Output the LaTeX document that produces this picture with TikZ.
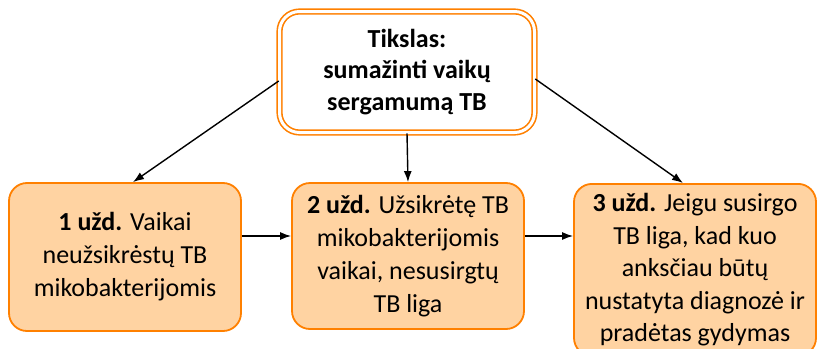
\documentclass[tikz,border=0pt]{standalone}
\usepackage{fontspec}
\setmainfont{Carlito}
\usetikzlibrary{arrows.meta}
\definecolor{uzdfill}{RGB}{255,211,162}
\definecolor{uzdline}{RGB}{255,128,0}

\begin{document}
\begin{tikzpicture}[x=1pt,y=-1pt,>={Latex[length=11pt,width=8pt]},
  uzd/.style={draw=uzdline,line width=1.8pt,fill=uzdfill,rounded corners=18pt,
    align=center,inner sep=2pt,font=\fontsize{26}{33}\selectfont},
  goalbox/.style={draw=uzdline,double=white,double distance=3pt,line width=1.6pt,
    rounded corners=20pt,align=center,font=\bfseries\fontsize{26}{31.5}\selectfont}]
\useasboundingbox (0,0) rectangle (818,348);
\node[goalbox,minimum width=255pt,minimum height=121pt] (goal) at (407,72)
 {Tikslas:\\ sumažinti vaikų\\ sergamumą TB};
\node[uzd,minimum width=232pt,minimum height=148pt] (t1) at (125,257)
 {\textbf{1 užd.} Vaikai\\ neužsikrėstų TB\\ mikobakterijomis};
\node[uzd,minimum width=232pt,minimum height=146pt] (t2) at (408,256)
 {\textbf{2 užd.} Užsikrėtę TB\\ mikobakterijomis\\ vaikai, nesusirgtų\\ TB liga};
\node[uzd,minimum width=242pt,minimum height=172pt,anchor=north,
  font=\fontsize{26}{32.5}\selectfont] (t3) at (695,183)
 {\textbf{3 užd.} Jeigu susirgo\\ TB liga, kad kuo\\ anksčiau būtų\\ nustatyta diagnozė ir\\ pradėtas gydymas};
% arrows
\draw[->,line width=1.4pt] ([yshift=-9pt]goal.west) -- ([xshift=8pt]t1.north);
\draw[->,line width=1.4pt] (goal.south) -- (t2.north);
\draw[->,line width=1.4pt] ([yshift=-7pt]goal.east) -- ([xshift=-12pt]t3.north);
\draw[->,line width=1.4pt] ([yshift=21pt]t1.east) -- ([yshift=20pt]t2.west);
\draw[->,line width=1.4pt] ([yshift=20pt]t2.east) -- (t3.west |- 0,236);
\end{tikzpicture}
\end{document}
